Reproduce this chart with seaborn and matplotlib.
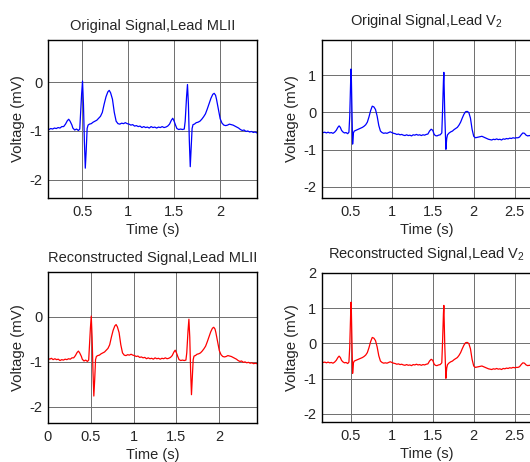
import numpy as np
import matplotlib
matplotlib.use('Agg')
import matplotlib.pyplot as plt
import seaborn as sns

sns.set_style('white')
plt.rcParams['font.family'] = ['Liberation Sans', 'DejaVu Sans']
plt.rcParams['font.size'] = 10.5
plt.rcParams['mathtext.fontset'] = 'custom'
plt.rcParams['mathtext.rm'] = 'Liberation Sans'

# lead MLII (s, mV)
mlii_t = [0.00, 0.02, 0.04, 0.06, 0.08, 0.10, 0.12, 0.14, 0.16, 0.18, 0.20, 0.22, 0.24, 0.26, 0.28,
          0.30, 0.32, 0.34, 0.355, 0.37, 0.38, 0.39, 0.40, 0.42, 0.44, 0.46, 0.475, 0.485, 0.495,
          0.505, 0.515, 0.525, 0.535, 0.545, 0.555, 0.565, 0.58, 0.60, 0.62, 0.64, 0.66, 0.68,
          0.70, 0.72, 0.74, 0.76, 0.78, 0.795, 0.81, 0.83, 0.85, 0.87, 0.89, 0.91, 0.93, 0.95,
          0.97, 0.99, 1.01, 1.03, 1.05, 1.07, 1.09, 1.11, 1.13, 1.15, 1.17, 1.19, 1.21, 1.23,
          1.25, 1.27, 1.29, 1.31, 1.33, 1.35, 1.37, 1.39, 1.41, 1.43, 1.45, 1.47, 1.485, 1.50,
          1.515, 1.53, 1.55, 1.57, 1.59, 1.61, 1.62, 1.635, 1.645, 1.655, 1.665, 1.675, 1.685,
          1.695, 1.705, 1.72, 1.74, 1.76, 1.78, 1.80, 1.82, 1.84, 1.86, 1.88, 1.90, 1.92, 1.935,
          1.95, 1.96, 1.98, 2.00, 2.02, 2.04, 2.06, 2.08, 2.10, 2.12, 2.14, 2.16, 2.18, 2.20,
          2.22, 2.24, 2.26, 2.28, 2.30, 2.32, 2.34, 2.36, 2.38, 2.40, 2.42, 2.44]
mlii_v = [-0.92, -0.94, -0.92, -0.95, -0.93, -0.95, -0.94, -0.97, -0.95, -0.96, -0.94, -0.95, -0.93,
          -0.94, -0.91, -0.91, -0.86, -0.79, -0.76, -0.80, -0.84, -0.88, -0.94, -0.98, -0.96, -0.99,
          -0.96, -0.60, -0.25, 0.02, -0.45, -1.20, -1.76, -1.40, -0.95, -0.88, -0.86, -0.85, -0.82,
          -0.80, -0.78, -0.74, -0.70, -0.62, -0.45, -0.30, -0.20, -0.17, -0.22, -0.35, -0.62, -0.80,
          -0.85, -0.86, -0.84, -0.85, -0.83, -0.85, -0.86, -0.88, -0.87, -0.90, -0.89, -0.91, -0.90,
          -0.93, -0.91, -0.93, -0.92, -0.94, -0.91, -0.93, -0.92, -0.94, -0.92, -0.93, -0.91, -0.93,
          -0.92, -0.90, -0.86, -0.78, -0.74, -0.80, -0.88, -0.95, -0.97, -0.96, -0.97, -0.96, -0.80,
          -0.30, -0.05, -0.45, -1.20, -1.73, -1.35, -0.95, -0.87, -0.86, -0.83, -0.82, -0.80, -0.76,
          -0.71, -0.65, -0.55, -0.44, -0.33, -0.25, -0.23, -0.27, -0.35, -0.55, -0.75, -0.84, -0.88,
          -0.89, -0.88, -0.86, -0.87, -0.88, -0.90, -0.92, -0.94, -0.97, -0.99, -0.98, -1.01, -1.00,
          -1.02, -1.01, -1.03, -1.02, -1.04, -1.03, -1.04]

# lead V2 (s, mV)
v2_t = [0.14, 0.16, 0.18, 0.20, 0.22, 0.24, 0.26, 0.28, 0.30, 0.32, 0.34, 0.355, 0.37, 0.385, 0.40,
        0.42, 0.44, 0.46, 0.475, 0.485, 0.495, 0.50, 0.505, 0.512, 0.52, 0.53, 0.54, 0.56, 0.58,
        0.60, 0.62, 0.64, 0.66, 0.68, 0.70, 0.72, 0.74, 0.76, 0.78, 0.80, 0.82, 0.84, 0.86, 0.88,
        0.90, 0.92, 0.94, 0.96, 0.98, 1.00, 1.02, 1.04, 1.06, 1.08, 1.10, 1.12, 1.14, 1.16, 1.18,
        1.20, 1.22, 1.24, 1.26, 1.28, 1.30, 1.32, 1.34, 1.36, 1.38, 1.40, 1.42, 1.44, 1.46, 1.48,
        1.50, 1.515, 1.53, 1.55, 1.57, 1.59, 1.61, 1.62, 1.63, 1.635, 1.64, 1.646, 1.655, 1.66,
        1.67, 1.68, 1.70, 1.72, 1.74, 1.76, 1.78, 1.80, 1.82, 1.84, 1.86, 1.88, 1.90, 1.92, 1.94,
        1.96, 1.98, 2.00, 2.02, 2.04, 2.06, 2.08, 2.10, 2.12, 2.14, 2.16, 2.18, 2.20, 2.22, 2.24,
        2.26, 2.28, 2.30, 2.32, 2.34, 2.36, 2.38, 2.40, 2.42, 2.44, 2.46, 2.48, 2.50, 2.52, 2.54,
        2.56, 2.58, 2.60, 2.62, 2.64, 2.66, 2.68, 2.70]
v2_v = [-0.52, -0.54, -0.53, -0.55, -0.53, -0.55, -0.54, -0.56, -0.53, -0.48, -0.40, -0.36, -0.40,
        -0.48, -0.52, -0.55, -0.54, -0.57, -0.53, -0.10, 0.80, 1.17, 0.90, 0.04, -0.85, -0.55,
        -0.50, -0.48, -0.46, -0.44, -0.42, -0.40, -0.37, -0.33, -0.26, -0.12, 0.05, 0.17, 0.15,
        0.08, -0.10, -0.35, -0.50, -0.54, -0.56, -0.55, -0.56, -0.54, -0.52, -0.54, -0.56, -0.57,
        -0.59, -0.58, -0.60, -0.59, -0.61, -0.62, -0.60, -0.62, -0.61, -0.63, -0.60, -0.61, -0.59,
        -0.61, -0.60, -0.62, -0.60, -0.61, -0.59, -0.58, -0.50, -0.45, -0.48, -0.58, -0.62, -0.63,
        -0.61, -0.60, -0.55, 0.10, 0.85, 1.08, 0.60, -0.04, -0.70, -0.99, -0.70, -0.60, -0.55,
        -0.52, -0.50, -0.46, -0.43, -0.40, -0.34, -0.26, -0.15, -0.05, 0.02, 0.03, 0.00, -0.15,
        -0.45, -0.64, -0.68, -0.67, -0.66, -0.65, -0.64, -0.66, -0.68, -0.70, -0.72, -0.73, -0.74,
        -0.72, -0.73, -0.71, -0.73, -0.72, -0.74, -0.71, -0.72, -0.70, -0.71, -0.69, -0.70, -0.68,
        -0.69, -0.68, -0.68, -0.66, -0.60, -0.55, -0.56, -0.61, -0.63, -0.62, -0.63]

W, H = 530, 462
fig = plt.figure(figsize=(W / 100, H / 100), dpi=100)


def panel(rect_px, t, v, color, title, xlim, ylim, xticks, yticks, title_pad=7):
    x0, y0, x1, y1 = rect_px
    ax = fig.add_axes([x0 / W, 1 - y1 / H, (x1 - x0) / W, (y1 - y0) / H])
    sns.lineplot(x=t, y=v, ax=ax, color=color, lw=0.9, sort=False, estimator=None)
    ax.set_xlim(xlim)
    ax.set_ylim(ylim)
    ax.set_xticks(xticks)
    ax.set_xticklabels([f'{x:g}' for x in xticks])
    ax.set_yticks(yticks)
    ax.set_yticklabels([f'{y:g}' for y in yticks])
    ax.grid(True, color='#6e6e6e', lw=0.7, ls='-')
    ax.tick_params(direction='in', length=3, width=0.7, labelsize=10.5, color='k')
    ax.tick_params(axis='x', pad=5)
    ax.tick_params(axis='y', pad=4)
    for s in ax.spines.values():
        s.set_color('k')
        s.set_linewidth(1.0)
    ax.set_title(title, fontsize=10.5, pad=title_pad)
    ax.set_xlabel('Time (s)', fontsize=10.5, labelpad=3)
    ax.set_ylabel('Voltage (mV)', fontsize=10.8, labelpad=3)
    return ax


panel((48, 40, 257, 198), mlii_t, mlii_v, '#0000ff', 'Original Signal,Lead MLII',
      (0.13, 2.40), (-2.37, 0.86), [0.5, 1, 1.5, 2], [-2, -1, 0])
panel((322, 40, 531, 198), v2_t, v2_v, '#0000ff', 'Original Signal,Lead V$_2$',
      (0.146, 2.70), (-2.3, 1.95), [0.5, 1, 1.5, 2, 2.5], [-2, -1, 0, 1], title_pad=11)
panel((48, 272, 257, 423), mlii_t, mlii_v, '#ff0000', 'Reconstructed Signal,Lead MLII',
      (0, 2.44), (-2.36, 1.0), [0, 0.5, 1, 1.5, 2], [-2, -1, 0])
panel((322, 273, 531, 422), v2_t, v2_v, '#ff0000', 'Reconstructed Signal,Lead V$_2$',
      (0.146, 2.70), (-2.23, 2.0), [0.5, 1, 1.5, 2, 2.5], [-2, -1, 0, 1, 2], title_pad=11)

fig.savefig('out.png', dpi=100)
